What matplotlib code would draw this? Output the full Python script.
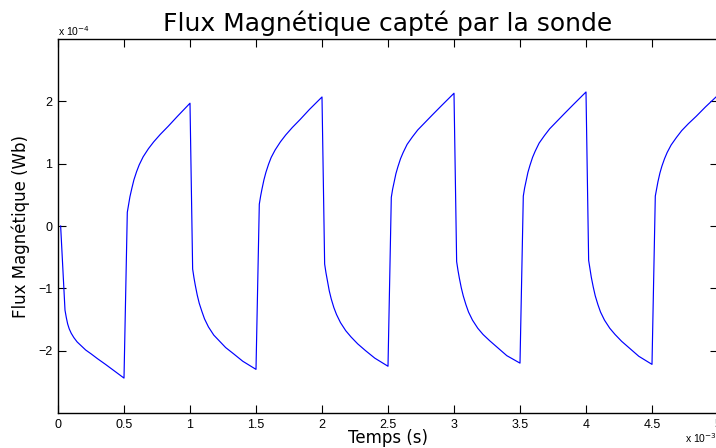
import numpy as np
import matplotlib
matplotlib.use("Agg")
import matplotlib.pyplot as plt
from matplotlib.ticker import FuncFormatter

# probe flux: time in ms, flux in 1e-4 Wb, one pair of lists per half period
t_fall0 = [0.02, 0.053, 0.063, 0.073, 0.085, 0.1, 0.12, 0.145, 0.175, 0.21, 0.25, 0.3, 0.36, 0.43, 0.5]
v_fall0 = [0.0, -1.35, -1.47, -1.57, -1.65, -1.72, -1.79, -1.86, -1.92, -1.99, -2.05, -2.13, -2.22, -2.33, -2.44]

t_rise1 = [0.525, 0.535, 0.545, 0.56, 0.575, 0.595, 0.615, 0.645, 0.685, 0.725, 0.775, 0.835, 0.905, 1.0]
v_rise1 = [0.22, 0.35, 0.47, 0.61, 0.74, 0.87, 0.98, 1.11, 1.24, 1.35, 1.47, 1.60, 1.76, 1.97]
t_fall1 = [1.02, 1.03, 1.04, 1.055, 1.07, 1.09, 1.11, 1.14, 1.18, 1.22, 1.27, 1.33, 1.40, 1.5]
v_fall1 = [-0.69, -0.83, -0.95, -1.11, -1.24, -1.37, -1.49, -1.62, -1.75, -1.84, -1.95, -2.05, -2.17, -2.30]

t_rise2 = [1.525, 1.535, 1.545, 1.56, 1.575, 1.595, 1.615, 1.645, 1.685, 1.725, 1.775, 1.835, 1.905, 2.0]
v_rise2 = [0.35, 0.48, 0.59, 0.74, 0.86, 0.99, 1.10, 1.22, 1.35, 1.46, 1.58, 1.71, 1.87, 2.07]
t_fall2 = [2.02, 2.03, 2.04, 2.055, 2.07, 2.09, 2.11, 2.14, 2.18, 2.22, 2.27, 2.33, 2.40, 2.5]
v_fall2 = [-0.61, -0.75, -0.87, -1.04, -1.17, -1.31, -1.42, -1.55, -1.68, -1.78, -1.89, -2.00, -2.12, -2.25]

t_rise3 = [2.525, 2.535, 2.545, 2.56, 2.575, 2.595, 2.615, 2.645, 2.685, 2.725, 2.775, 2.835, 2.905, 3.0]
v_rise3 = [0.46, 0.59, 0.69, 0.84, 0.95, 1.08, 1.18, 1.31, 1.43, 1.54, 1.65, 1.78, 1.93, 2.13]
t_fall3 = [3.02, 3.03, 3.04, 3.055, 3.07, 3.09, 3.11, 3.14, 3.18, 3.22, 3.27, 3.33, 3.40, 3.5]
v_fall3 = [-0.57, -0.71, -0.83, -0.99, -1.12, -1.26, -1.38, -1.51, -1.64, -1.74, -1.84, -1.95, -2.08, -2.20]

t_rise4 = [3.525, 3.535, 3.545, 3.56, 3.575, 3.595, 3.615, 3.645, 3.685, 3.725, 3.775, 3.835, 3.905, 4.0]
v_rise4 = [0.48, 0.61, 0.71, 0.86, 0.97, 1.10, 1.20, 1.33, 1.45, 1.56, 1.67, 1.80, 1.95, 2.15]
t_fall4 = [4.02, 4.03, 4.04, 4.055, 4.07, 4.09, 4.11, 4.14, 4.18, 4.22, 4.27, 4.33, 4.40, 4.5]
v_fall4 = [-0.55, -0.69, -0.82, -0.98, -1.12, -1.26, -1.38, -1.51, -1.64, -1.74, -1.85, -1.96, -2.09, -2.22]

t_rise5 = [4.525, 4.535, 4.545, 4.56, 4.575, 4.595, 4.615, 4.645, 4.685, 4.725, 4.775, 4.835, 4.905, 5.0]
v_rise5 = [0.48, 0.60, 0.71, 0.85, 0.96, 1.08, 1.18, 1.30, 1.42, 1.53, 1.64, 1.76, 1.91, 2.10]

t_ms = (t_fall0 + t_rise1 + t_fall1 + t_rise2 + t_fall2 + t_rise3 + t_fall3
        + t_rise4 + t_fall4 + t_rise5)
flux = (v_fall0 + v_rise1 + v_fall1 + v_rise2 + v_fall2 + v_rise3 + v_fall3
        + v_rise4 + v_fall4 + v_rise5)

t = np.array(t_ms) * 1e-3
phi = np.array(flux) * 1e-4

fig = plt.figure(figsize=(7.16, 4.48), dpi=100)
ax = fig.add_axes([58 / 716, 1 - 413 / 448, 660 / 716, 374 / 448])
ax.plot(t, phi, color="#0000ff", lw=0.85)

ax.set_xlim(0, 5e-3)
ax.set_ylim(-3e-4, 3e-4)
ax.set_xticks(np.arange(0, 5.01e-3, 0.5e-3))
ax.set_yticks(np.arange(-2e-4, 2.01e-4, 1e-4))
ax.xaxis.set_major_formatter(FuncFormatter(lambda x, p: f"{x * 1e3:g}"))
ax.yaxis.set_major_formatter(FuncFormatter(lambda y, p: f"{round(y * 1e4):d}".replace("-", "\u2212")))
ax.tick_params(direction="in", length=5.5, width=0.8, top=True, right=True,
               labelsize=9, pad=4)
for lab in ax.get_xticklabels() + ax.get_yticklabels():
    lab.set_fontfamily("Liberation Sans")
for s in ax.spines.values():
    s.set_linewidth(1.0)

ax.set_title("Flux Magnétique capté par la sonde", fontsize=18, pad=6)
ax.set_xlabel("Temps (s)", fontsize=12, labelpad=-1)
ax.set_ylabel("Flux Magnétique (Wb)", fontsize=12, labelpad=6)

# MATLAB-style exponent notes
fig.text(58 / 716, 1 - 36 / 448, "x 10$^{-4}$", fontsize=7.5,
         family="Liberation Sans", ha="left", va="baseline")
fig.text(685 / 716, 1 - 443 / 448, "x 10$^{-3}$", fontsize=7.5,
         family="Liberation Sans", ha="left", va="baseline")

fig.savefig("out.png", dpi=100)
